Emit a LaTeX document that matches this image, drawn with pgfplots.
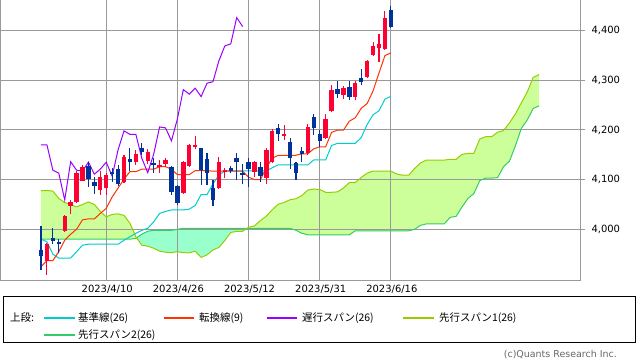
\documentclass[border=0pt]{standalone}
\usepackage{fontspec}
\setmainfont{DejaVu Sans}
\newfontfamily\jp{Noto Sans CJK JP}
\usepackage{pgfplots}
\pgfplotsset{compat=1.18}
\usepgfplotslibrary{fillbetween}
\definecolor{upc}{HTML}{FF0033}
\definecolor{dnc}{HTML}{003399}
\definecolor{tenkanc}{HTML}{FF3300}
\definecolor{kijunc}{HTML}{00CCCC}
\definecolor{chikouc}{HTML}{9900FF}
\definecolor{spanAc}{HTML}{99CC00}
\definecolor{spanBc}{HTML}{33CC66}
\definecolor{fillAc}{HTML}{CCFF99}
\definecolor{fillBc}{HTML}{99FFCC}
\definecolor{gridc}{HTML}{999999}
\begin{document}
\begin{tikzpicture}
\begin{axis}[
  at={(0bp,0bp)}, anchor=south west,
  scale only axis, width=580bp, height=280bp,
  xmin=-6.914, xmax=90.894, ymin=3898, ymax=4461.4,
  set layers,
  xtick={11,23,35,47,59},
  xticklabels={2023/4/10,2023/4/26,2023/5/12,2023/5/31,2023/6/16},
  ytick={4000,4100,4200,4300,4400},
  yticklabels={{4,000},{4,100},{4,200},{4,300},{4,400}},
  yticklabel pos=right,
  ytick pos=right,
  tick align=outside,
  major tick length=5bp,
  xtick style={draw=none},
  ytick style={draw=gridc, line width=1bp},
  grid=major,
  grid style={gridc, line width=1bp},
  axis line style={gridc, line width=1bp},
  ticklabel style={font=\fontsize{10}{12}\selectfont, text=black},
  xticklabel style={xshift=1bp, yshift=3bp},
  yticklabel style={xshift=3bp},
  unbounded coords=jump,
]
% Senkou spans
\addplot[spanBc, line width=1bp, name path=B] coordinates {(0,3980)(15,3980)(16,3982)(17,3990)(18,3996)(19,3998)(22,3998)(23,4000)(24,4002)(42,4002)(43,3998)(44,3992)(45,3989)(52,3989)(53,3997)(62,3997)(63,4000)(64,4008)(65,4011)(68,4011)(69,4024)(70,4026)(71,4045)(72,4062)(73,4072)(74,4098)(75,4103)(76,4103)(77,4104)(78,4126)(79,4137)(80,4168)(81,4203)(82,4220)(83,4243)(84,4248.5)};
\addplot[spanAc, line width=1bp, name path=A] coordinates {(0,4078)(1,4078)(2,4077)(3,4062)(4,4054)(5,4050)(6,4045)(7,4050)(8,4055)(9,4050)(10,4036)(11,4025)(12,4030)(13,4031)(14,4028)(15,4012)(16,3985)(17,3968)(18,3966)(19,3962)(20,3956)(21,3954)(22,3953)(23,3955)(24,3953)(25,3952.5)(26,3956)(27,3943.5)(28,3948.5)(29,3958.5)(30,3963.5)(31,3977.5)(32,3993.5)(33,3996)(34,3996)(35,4004)(36,4007)(37,4017.5)(38,4026.5)(39,4039.5)(40,4050.5)(41,4054)(42,4059.5)(43,4061.5)(44,4068)(45,4079)(46,4081)(47,4080)(48,4074.5)(49,4074.5)(50,4075.3)(51,4083)(52,4094)(53,4094)(54,4104.3)(55,4113)(56,4117.3)(59,4117.3)(60,4111.3)(61,4108.8)(62,4108.8)(63,4122.3)(64,4133.5)(65,4139.3)(68,4139.3)(69,4140.8)(70,4140.8)(71,4150.8)(72,4152.8)(73,4152.8)(74,4181.8)(75,4186.3)(76,4186.3)(77,4195.3)(78,4198.8)(79,4214)(80,4232)(81,4254.5)(82,4276.5)(83,4305.8)(84,4311.3)};
\addplot[fill=fillAc, draw=none] fill between[of=A and B, soft clip={domain=-1:16.12}, on layer=axis background];
\addplot[fill=fillBc, draw=none] fill between[of=A and B, soft clip={domain=16.12:34.75}, on layer=axis background];
\addplot[fill=fillAc, draw=none] fill between[of=A and B, soft clip={domain=34.75:85}, on layer=axis background];
% Kijun
\addplot[kijunc, line width=1bp] coordinates {(0,3980)(1,3975)(2,3950)(3,3942)(4,3942)(5,3942)(6,3955)(7,3968)(8,3970)(13,3970)(14,3978)(15,3985)(16,3992)(17,3998)(18,4002)(19,4015)(20,4032)(21,4036)(22,4039)(24,4039)(25,4040.5)(26,4048)(27,4070)(28,4070)(29,4091.5)(30,4109)(31,4117.5)(38,4117.5)(39,4124)(40,4129.5)(45,4129.5)(46,4139.5)(48,4139.5)(49,4168.5)(50,4173)(53,4173)(54,4184.5)(55,4211)(56,4230.5)(57,4238.5)(58,4262)(59,4267.5)};
% Tenkan
\addplot[tenkanc, line width=1bp] coordinates {(0,3925)(1,3937)(2,3937)(3,3955)(4,3978)(5,3990)(6,4000)(7,4019)(8,4021)(9,4021)(10,4032)(11,4042)(12,4065)(13,4083)(14,4101)(15,4116)(16,4116)(17,4121)(19,4121)(20,4126)(21,4126)(22,4121)(23,4110)(25,4110)(26,4118)(28,4118)(29,4117)(34,4117)(35,4105)(36,4100)(37,4100)(38,4124)(39,4143)(40,4149)(43,4149)(44,4152)(45,4152)(46,4162)(47,4166)(48,4166)(49,4195)(50,4199.5)(51,4199.5)(52,4217.5)(53,4224.5)(54,4243.5)(55,4253)(56,4278.5)(57,4314.5)(58,4349.5)(59,4355)};
% Chikou
\addplot[chikouc, line width=1bp] coordinates {(0,4170)(1,4170)(2,4119)(3,4113)(4,4059)(5,4136)(6,4119)(7,4117)(8,4135)(9,4111)(10,4121)(11,4135)(12,4107)(13,4160)(14,4198)(15,4191)(16,4191)(17,4143)(18,4114)(19,4151)(20,4206)(21,4204)(22,4178)(23,4222)(24,4281)(25,4272)(26,4284)(27,4267)(28,4294)(29,4297)(30,4339)(31,4369)(32,4373)(33,4426)(34,4408)};
% Up candles: wicks
\addplot[upc, line width=1.1bp, line cap=butt] coordinates {
(1,3908)(1,3972)(1,nan) (4,3995)(4,4029)(4,nan) (5,4030)(5,4058)(5,nan) (6,4052)(6,4117)(6,nan) (7,4097)(7,4130)(7,nan)
(10,4069)(10,4118)(10,nan) (11,4070)(11,4113)(11,nan) (14,4093)(14,4150)(14,nan) (16,4130)(16,4160)(16,nan) (18,4132)(18,4161)(18,nan)
(20,4113)(20,4139)(20,nan) (21,4125)(21,4144)(21,nan) (24,4072)(24,4138)(24,nan) (25,4126)(25,4172)(25,nan) (26,4162)(26,4188)(26,nan)
(30,4081)(30,4146)(30,nan) (31,4103)(31,4123)(31,nan) (36,4106)(36,4138)(36,nan) (38,4092)(38,4163)(38,nan) (39,4134)(39,4201)(39,nan)
(41,4180)(41,4210)(41,nan) (45,4150)(45,4212)(45,nan) (48,4181)(48,4232)(48,nan) (49,4237)(49,4290)(49,nan) (51,4262)(51,4288)(51,nan)
(53,4260)(53,4299)(53,nan) (55,4304)(55,4341)(55,nan) (56,4349)(56,4376)(56,nan) (57,4337)(57,4392)(57,nan) (58,4361)(58,4439)};
% Up candles: bodies
\addplot[upc, line width=4.4bp, line cap=butt] coordinates {
(1,3937)(1,3970)(1,nan) (4,3997)(4,4027)(4,nan) (5,4047)(5,4055)(5,nan) (6,4054)(6,4114)(6,nan) (7,4098)(7,4125)(7,nan)
(10,4079)(10,4106)(10,nan) (11,4083)(11,4109)(11,nan) (14,4095)(14,4145)(14,nan) (16,4136)(16,4152)(16,nan) (18,4137)(18,4155)(18,nan)
(20,4126)(20,4130)(20,nan) (21,4131)(21,4139)(21,nan) (24,4074)(24,4136)(24,nan) (25,4128)(25,4170)(25,nan) (26,4166)(26,4170)(26,nan)
(30,4083)(30,4136)(30,nan) (31,4116)(31,4120)(31,nan) (36,4116)(36,4135)(36,nan) (38,4103)(38,4160)(38,nan) (39,4136)(39,4198)(39,nan)
(41,4188)(41,4192)(41,nan) (45,4153)(45,4206)(45,nan) (48,4183)(48,4222)(48,nan) (49,4239)(49,4281)(49,nan) (51,4270)(51,4284)(51,nan)
(53,4267)(53,4294)(53,nan) (55,4307)(55,4339)(55,nan) (56,4351)(56,4369)(56,nan) (57,4365)(57,4373)(57,nan) (58,4363)(58,4426)};
% Down candles: wicks
\addplot[dnc, line width=1.1bp, line cap=butt] coordinates {
(0,3918)(0,4007)(0,nan) (2,3970)(2,4003)(2,nan) (3,3952)(3,3981)(3,nan) (8,4086)(8,4136)(8,nan) (9,4071)(9,4106)(9,nan)
(12,4095)(12,4123)(12,nan) (13,4088)(13,4129)(13,nan) (15,4117)(15,4163)(15,nan) (17,4150)(17,4173)(17,nan) (19,4113)(19,4143)(19,nan)
(22,4070)(22,4128)(22,nan) (23,4048)(23,4090)(23,nan) (27,4089)(27,4164)(27,nan) (28,4089)(28,4153)(28,nan) (29,4047)(29,4099)(29,nan)
(32,4113)(32,4128)(32,nan) (33,4099)(33,4153)(33,nan) (34,4092)(34,4132)(34,nan) (35,4085)(35,4143)(35,nan) (37,4096)(37,4136)(37,nan)
(40,4178)(40,4212)(40,nan) (42,4121)(42,4183)(42,nan) (43,4100)(43,4136)(43,nan) (44,4136)(44,4166)(44,nan) (46,4190)(46,4232)(46,nan)
(47,4165)(47,4200)(47,nan) (50,4265)(50,4299)(50,nan) (52,4260)(52,4299)(52,nan) (54,4290)(54,4322)(54,nan) (59,4406)(59,4450)};
% Down candles: bodies
\addplot[dnc, line width=4.4bp, line cap=butt] coordinates {
(0,3947)(0,3958)(0,nan) (2,3976)(2,3983)(2,nan) (3,3970)(3,3975)(3,nan) (8,4101)(8,4128)(8,nan) (9,4088)(9,4096)(9,nan)
(12,4111)(12,4115)(12,nan) (13,4091)(13,4121)(13,nan) (15,4136)(15,4141)(15,nan) (17,4155)(17,4164)(17,nan) (19,4129)(19,4133)(19,nan)
(22,4075)(22,4126)(22,nan) (23,4053)(23,4088)(23,nan) (27,4119)(27,4163)(27,nan) (28,4113)(28,4141)(28,nan) (29,4059)(29,4083)(29,nan)
(32,4117)(32,4123)(32,nan) (33,4135)(33,4143)(33,nan) (34,4110)(34,4114)(34,nan) (35,4121)(35,4136)(35,nan) (37,4107)(37,4126)(37,nan)
(40,4191)(40,4203)(40,nan) (42,4143)(42,4175)(42,nan) (43,4114)(43,4134)(43,nan) (44,4151)(44,4157)(44,nan) (46,4204)(46,4225)(46,nan)
(47,4178)(47,4191)(47,nan) (50,4272)(50,4282)(50,nan) (52,4267)(52,4286)(52,nan) (54,4297)(54,4304)(54,nan) (59,4408)(59,4441)};
\end{axis}
% Legend
\draw[black, line width=1bp] (3.5bp,-16.5bp) rectangle (635.5bp,-62bp);
\begin{scope}[every node/.style={anchor=west, inner sep=0pt, font=\jp\fontsize{10.5}{12}\selectfont}]
\node at (10bp,-38bp) {上段:};
\draw[kijunc, line width=1.2bp] (44bp,-38bp) -- (75bp,-38bp);
\node at (78bp,-38bp) {基準線(26)};
\draw[tenkanc, line width=1.2bp] (164bp,-38bp) -- (194bp,-38bp);
\node at (199bp,-38bp) {転換線(9)};
\draw[chikouc, line width=1.2bp] (267bp,-38bp) -- (297bp,-38bp);
\node at (302bp,-38bp) {遅行スパン(26)};
\draw[spanAc, line width=1.2bp] (403bp,-38bp) -- (434bp,-38bp);
\node at (439bp,-38bp) {先行スパン1(26)};
\draw[spanBc, line width=1.2bp] (44bp,-55bp) -- (75bp,-55bp);
\node at (78bp,-55bp) {先行スパン2(26)};
\end{scope}
\node[anchor=east, inner sep=0pt, font=\fontsize{9.5}{11}\selectfont, text=black!60] at (617bp,-75bp) {(c)Quants Research Inc.};
\pgfresetboundingbox
\path (0bp,-82bp) rectangle (638bp,280bp);
\end{tikzpicture}
\end{document}
